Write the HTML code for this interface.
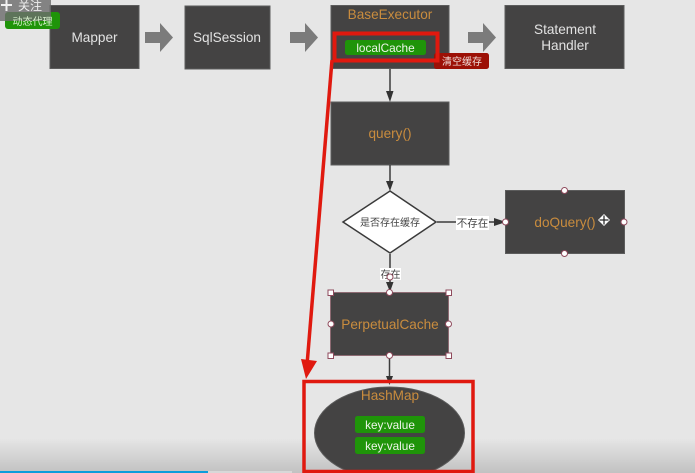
<!DOCTYPE html>
<html><head><meta charset="utf-8">
<style>
html,body{margin:0;padding:0;background:#e6e6e6;overflow:hidden}
svg{display:block;filter:blur(.3px)}
text{font-family:"Liberation Sans","Noto Sans CJK SC",sans-serif}
</style></head>
<body>
<svg width="695" height="473" viewBox="0 0 695 473" xmlns="http://www.w3.org/2000/svg">
<defs>
<linearGradient id="bot" x1="0" y1="0" x2="0" y2="1"><stop offset="0" stop-color="#000" stop-opacity="0"/><stop offset="1" stop-color="#000" stop-opacity=".16"/></linearGradient>
</defs>
<rect width="695" height="473" fill="#e6e6e6"/>
<rect x="0" y="438" width="695" height="35" fill="url(#bot)"/>
<rect x="0" y="471" width="208" height="2" fill="#0d9ddb"/>
<rect x="208" y="471" width="84" height="2" fill="#d8d8d8"/>

<!-- boxes -->
<g fill="#444343" stroke="#5c5c5c" stroke-width="1">
<rect x="50" y="5.500" width="89" height="63"/>
<rect x="185" y="6" width="85" height="63"/>
<rect x="331" y="5.500" width="118" height="63"/>
<rect x="505" y="5.500" width="119" height="63"/>
<rect x="331" y="102" width="118" height="63"/>
<rect x="505.500" y="190.500" width="119" height="63"/>
</g>
<rect x="330.500" y="292.500" width="118" height="63" fill="#444343" stroke="#8d6a72" stroke-width="1"/>

<!-- block arrows -->
<g fill="#7b7b7b">
<polygon points="145,32 160,32 160,23 173,37.500 160,52 160,43 145,43"/>
<polygon points="290,32 305,32 305,23 318,37.500 305,52 305,43 290,43"/>
<polygon points="468,32 483,32 483,23 496,37.500 483,52 483,43 468,43"/>
</g>

<!-- connectors -->
<g stroke="#3c3c3c" stroke-width="1.500" fill="none">
<line x1="390" y1="69" x2="390" y2="92"/>
<line x1="390" y1="165" x2="390" y2="182"/>
<line x1="390" y1="254" x2="390" y2="284"/>
<line x1="437" y1="222" x2="496" y2="222"/>
<line x1="389.500" y1="356" x2="389.500" y2="376"/>
</g>
<g fill="#333">
<polygon points="386,91 393.500,91 390,102"/>
<polygon points="386,181 393.500,181 390,191"/>
<polygon points="386,282 393.500,282 390,292"/>
<polygon points="494,218 494,226 506,222"/>
<polygon points="386,376 393,376 389.500,385"/>
</g>

<!-- diamond -->
<polygon points="390,191 436,222 390,253 343,222" fill="#fff" stroke="#3a3a3a" stroke-width="1.500"/>
<text x="390" y="226" font-size="10" text-anchor="middle" fill="#444">是否存在缓存</text>

<!-- labels on connectors -->
<rect x="456" y="216" width="33" height="14" fill="#fff"/>
<text x="472.500" y="226.500" font-size="10.500" text-anchor="middle" fill="#444">不存在</text>
<rect x="380" y="268" width="21" height="12" fill="#fff"/>
<text x="390.500" y="278" font-size="10" text-anchor="middle" fill="#444">存在</text>

<!-- box texts -->
<g font-size="13.600" text-anchor="middle" fill="#e2e2e2">
<text x="94.500" y="42">Mapper</text>
<text x="227" y="42">SqlSession</text>
<text x="565" y="34">Statement</text>
<text x="565" y="50">Handler</text>
</g>
<g font-size="13.600" text-anchor="middle" fill="#c98c3e">
<text x="390" y="19">BaseExecutor</text>
<text x="390" y="138">query()</text>
<text x="565" y="227">doQuery()</text>
<text x="390" y="329">PerpetualCache</text>
</g>

<!-- hashmap ellipse -->
<ellipse cx="389.500" cy="433" rx="75" ry="46" fill="#444343" stroke="#5a5a5a"/>
<text x="390" y="400" font-size="13.600" text-anchor="middle" fill="#c98c3e">HashMap</text>

<!-- green pills -->
<g fill="#1f9409">
<rect x="345" y="40" width="81" height="15" rx="2.500"/>
<rect x="355" y="416" width="70" height="17" rx="2.500"/>
<rect x="355" y="437" width="70" height="17" rx="2.500"/>
<rect x="5" y="12" width="55" height="17" rx="3"/>
</g>
<g font-size="11.800" text-anchor="middle" fill="#eef5ea" font-weight="400">
<text x="385.500" y="52">localCache</text>
<text x="390" y="429">key:value</text>
<text x="390" y="450">key:value</text>
</g>

<!-- follow badge -->
<rect x="0" y="0" width="51" height="21" fill="#6c6c6c" fill-opacity=".82"/>
<rect x="1" y="4" width="11" height="2" fill="#f0f0f0"/>
<rect x="5.500" y="0" width="2" height="11" fill="#f0f0f0"/>
<text x="18" y="10" font-size="12" fill="#eee">关注</text>
<text x="32.500" y="25" font-size="10" text-anchor="middle" fill="#d6eecb">动态代理</text>

<!-- red label -->
<rect x="434" y="53" width="55" height="16" rx="2.500" fill="#9c1006"/>
<text x="462" y="65" font-size="10" text-anchor="middle" fill="#f0dcd8">清空缓存</text>

<!-- red annotation -->
<g fill="none" stroke="#e0190f">
<rect x="334.500" y="33.500" width="103" height="27" stroke-width="4"/>
<rect x="304" y="381.500" width="169" height="90" stroke-width="3.500"/>
<line x1="332" y1="60" x2="307" y2="365" stroke-width="3.500"/>
</g>
<polygon points="301,359 317,361 306,379" fill="#e0190f"/>

<!-- handles -->
<g fill="#fff" stroke="#8f4a5c" stroke-width="1">
<circle cx="564.500" cy="190.500" r="3"/>
<circle cx="564.500" cy="253.500" r="3"/>
<circle cx="505.500" cy="222" r="3"/>
<circle cx="624" cy="222" r="3"/>
<circle cx="390" cy="277" r="3"/>
<circle cx="389.500" cy="292.500" r="3"/>
<circle cx="389.500" cy="355.500" r="3"/>
<circle cx="331" cy="324" r="3"/>
<circle cx="448.500" cy="324" r="3"/>
<rect x="328" y="290" width="5.500" height="5.500"/>
<rect x="446" y="290" width="5.500" height="5.500"/>
<rect x="328" y="353" width="5.500" height="5.500"/>
<rect x="446" y="353" width="5.500" height="5.500"/>
</g>

<!-- move cursor -->
<polygon points="604,214 610,220 604,226 598,220" fill="#fff"/>
<g stroke="#222" stroke-width="1.200">
<line x1="599.500" y1="220" x2="608.500" y2="220"/>
<line x1="604" y1="215.500" x2="604" y2="224.500"/>
</g>
</svg>
</body></html>
